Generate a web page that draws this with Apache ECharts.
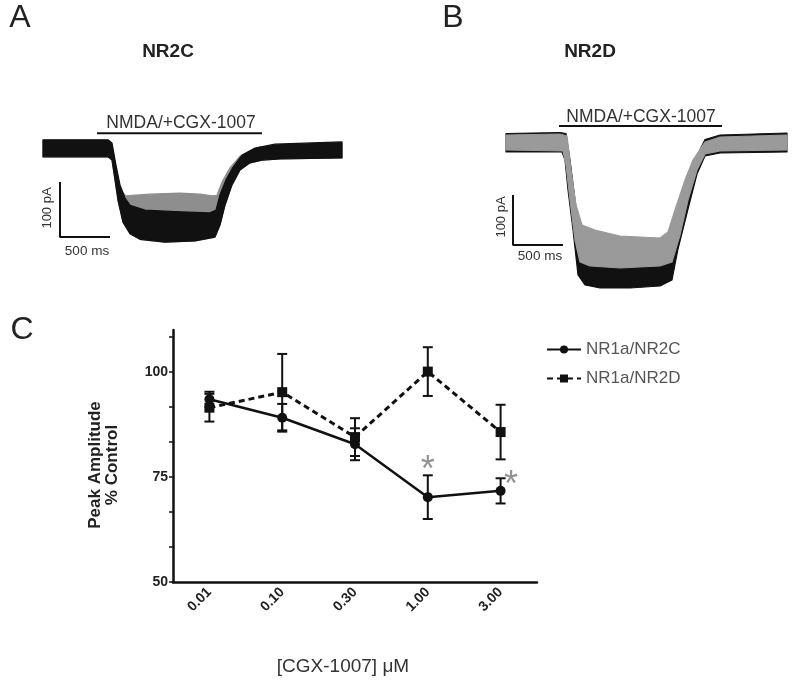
<!DOCTYPE html>
<html>
<head>
<meta charset="utf-8">
<script src="https://cdn.jsdelivr.net/npm/echarts/dist/echarts.min.js"></script>
<style>
html,body{margin:0;padding:0;background:#fff;}
#chart{width:800px;height:686px;}
</style>
</head>
<body>
<div id="chart"></div>
<script>
// ---------- Panel C data ----------
const categories = ['0.01', '0.10', '0.30', '1.00', '3.00'];
const nr2cMean = [93.5, 89.1, 82.8, 70.2, 71.7];
const nr2cSem  = [1.8, 3.3, 3.8, 5.2, 3.0];
const nr2dMean = [91.5, 95.2, 84.5, 100.1, 85.7];
const nr2dSem  = [3.3, 9.1, 4.5, 5.8, 6.5];
const yTickLabels = [50, 75, 100];
const yMinorStep = 25 / 3;
const significantIdx = [3, 4];

// ---------- Panel A traces (time ms, current pA) ----------
const aBlackUpper = [[0,15],[650,15],[690,9],[730,-31],[770,-67],[820,-91],[870,-104],[1020,-113],[1370,-116],[1670,-118],[1730,-113],[1770,-85],[1830,-58],[1900,-35],[1990,-13],[2120,0],[2320,7],[2990,11]];
const aBlackLower = [[2990,-18],[2370,-20],[2190,-22],[2070,-27],[1970,-40],[1890,-67],[1820,-104],[1770,-140],[1720,-162],[1520,-169],[1220,-171],[970,-166],[870,-156],[800,-135],[750,-95],[720,-58],[690,-22],[650,-16],[0,-16]];
const aGrayUpper  = [[0,13],[650,13],[690,5],[730,-40],[770,-76],[830,-87],[1070,-84],[1370,-82],[1570,-84],[1690,-87],[1740,-86],[1790,-62],[1870,-36],[1970,-15],[2170,2],[2990,9]];
const aScaleBar = [[170,-62],[170,-162],[670,-162]];
const aDrugBar = [[540,27],[2190,27]];

// ---------- Panel B traces ----------
const bBlackUpper = [[0,17],[540,19],[600,17],[640,-36],[690,-116],[740,-186],[840,-206],[1140,-216],[1540,-216],[1620,-206],[1690,-166],[1790,-96],[1890,-36],[1990,5],[2140,14],[2810,18]];
const bBlackLower = [[2810,-20],[2140,-22],[1990,-28],[1910,-64],[1820,-134],[1720,-214],[1660,-276],[1540,-288],[1240,-292],[940,-292],[790,-286],[720,-266],[670,-176],[620,-96],[590,-36],[560,-20],[0,-20]];
const bGrayUpper  = [[0,14],[540,16],[610,12],[650,-56],[700,-126],[760,-166],[890,-176],[1140,-188],[1540,-192],[1620,-180],[1690,-136],[1790,-76],[1870,-36],[1990,0],[2140,10],[2810,14]];
const bGrayLower  = [[2810,-16],[2140,-18],[1990,-24],[1910,-56],[1820,-116],[1740,-186],[1660,-240],[1540,-248],[1140,-252],[840,-248],[740,-240],[690,-196],[640,-116],[600,-46],[570,-18],[0,-16]];
const bScaleBar = [[70,-106],[70,-206],[570,-206]];
const bDrugBar = [[530,32],[2160,32]];

// ---------- helpers ----------
const FONT = "'Liberation Sans', Arial, Helvetica, sans-serif";
const INK = '#111';

const yTickValues = [];
for (let v = yTickLabels[0]; v < 110; v += yMinorStep) yTickValues.push(v);

function polygonSeries(axisIdx, pts, color, z) {
  return {
    type: 'custom', xAxisIndex: axisIdx, yAxisIndex: axisIdx, silent: true, z: z,
    data: pts, encode: {x: 0, y: 1}, clip: false,
    renderItem: function (params, api) {
      if (params.dataIndex !== 0) return null;
      const coords = pts.map(p => api.coord(p));
      return {type: 'polygon', shape: {points: coords},
        style: {fill: color, stroke: color, lineWidth: 1.2, lineJoin: 'round'}};
    }
  };
}
function barSeries(axisIdx, pts) {
  return {type: 'line', xAxisIndex: axisIdx, yAxisIndex: axisIdx, data: pts, symbol: 'none',
    silent: true, clip: false, z: 10, lineStyle: {color: INK, width: 2}, animation: false};
}
function errSeries(mean, sem) {
  return {
    type: 'custom', xAxisIndex: 2, yAxisIndex: 2, silent: true, z: 3,
    data: mean.map((m, i) => [i, m - sem[i], m + sem[i]]),
    encode: {x: 0, y: [1, 2]},
    renderItem: function (params, api) {
      const i = api.value(0);
      const lo = api.coord([i, api.value(1)]);
      const hi = api.coord([i, api.value(2)]);
      const hw = 5;
      const st = {stroke: INK, lineWidth: 2};
      return {type: 'group', children: [
        {type: 'line', shape: {x1: lo[0], y1: lo[1], x2: hi[0], y2: hi[1]}, style: st},
        {type: 'line', shape: {x1: lo[0] - hw, y1: lo[1], x2: lo[0] + hw, y2: lo[1]}, style: st},
        {type: 'line', shape: {x1: hi[0] - hw, y1: hi[1], x2: hi[0] + hw, y2: hi[1]}, style: st}
      ]};
    }
  };
}
function txt(text, x, y, size, opts) {
  opts = opts || {};
  return {type: 'text', x: x, y: y, rotation: opts.rot || 0, silent: true,
    style: {text: text, fontSize: size, fontFamily: FONT, fontWeight: opts.bold ? 'bold' : 'normal',
      fill: opts.color || '#222', align: 'center', verticalAlign: 'middle'}};
}

const chart = echarts.init(document.getElementById('chart'), null, {renderer: 'canvas'});

const option = {
  backgroundColor: '#fff',
  animation: false,
  textStyle: {fontFamily: FONT},
  grid: [
    {left: 43, top: 115, width: 300, height: 143, outerBoundsMode: 'none'},
    {left: 506, top: 112, width: 300, height: 180, outerBoundsMode: 'none'},
    {left: 173, top: 330, width: 364, height: 252, outerBoundsMode: 'none'}
  ],
  xAxis: [
    {gridIndex: 0, type: 'value', min: 0, max: 3000, show: false},
    {gridIndex: 1, type: 'value', min: 0, max: 3000, show: false},
    {gridIndex: 2, type: 'category', data: categories, boundaryGap: true,
      axisLine: {lineStyle: {color: INK, width: 2.5}},
      axisTick: {alignWithLabel: true, length: 5, lineStyle: {color: INK, width: 2}},
      axisLabel: {rotate: 45, fontSize: 14, fontWeight: 'bold', color: '#222', margin: 8, fontFamily: FONT},
      name: '[CGX-1007] \u03bcM', nameLocation: 'middle', nameGap: 75, nameMoveOverlap: false,
      nameTextStyle: {fontSize: 19, color: '#333', fontFamily: FONT, padding: [0, 24, 0, 0]}
    }
  ],
  yAxis: [
    {gridIndex: 0, type: 'value', min: -200, max: 60, show: false},
    {gridIndex: 1, type: 'value', min: -300, max: 60, show: false},
    {gridIndex: 2, type: 'value', min: 50, max: 110,
      axisLine: {show: true, lineStyle: {color: INK, width: 2.5}},
      axisTick: {show: true, length: 4, customValues: yTickValues, lineStyle: {color: INK, width: 1.5}},
      splitLine: {show: false},
      axisLabel: {fontSize: 14, fontWeight: 'bold', color: '#222', margin: 5, fontFamily: FONT,
        customValues: yTickLabels,
        formatter: function (v) { return String(Math.round(v)); }},
      name: 'Peak Amplitude\n% Control', nameLocation: 'middle', nameGap: 52, nameMoveOverlap: false,
      nameTextStyle: {fontSize: 17, fontWeight: 'bold', color: '#222', fontFamily: FONT, lineHeight: 17, padding: [0, 18, 0, 0]}
    }
  ],
  legend: {
    orient: 'vertical', left: 541, top: 336, itemWidth: 34, itemHeight: 10, itemGap: 12,
    textStyle: {fontSize: 17, color: '#555', fontFamily: FONT},
    data: ['NR1a/NR2C', 'NR1a/NR2D']
  },
  graphic: [
    txt('A', 20, 18, 32),
    txt('B', 453, 18, 32),
    txt('C', 22, 330, 32),
    txt('NR2C', 168, 52, 19, {bold: true}),
    txt('NR2D', 590, 52, 19, {bold: true}),
    txt('NMDA/+CGX-1007', 181, 123, 17.5, {color: '#333'}),
    txt('NMDA/+CGX-1007', 641, 117, 17.5, {color: '#333'}),
    txt('100 pA', 47, 208, 13, {rot: Math.PI / 2, color: '#333'}),
    txt('500 ms', 87, 251, 13.5, {color: '#333'}),
    txt('100 pA', 501, 217, 13, {rot: Math.PI / 2, color: '#333'}),
    txt('500 ms', 540, 256, 13.5, {color: '#333'})
  ],
  series: [
    polygonSeries(0, aGrayUpper.concat(aBlackLower), '#8e8e8e', 1),
    polygonSeries(0, aBlackUpper.concat(aBlackLower), '#111', 2),
    barSeries(0, aScaleBar),
    barSeries(0, aDrugBar),
    polygonSeries(1, bBlackUpper.concat(bBlackLower), '#111', 1),
    polygonSeries(1, bGrayUpper.concat(bGrayLower), '#9a9a9a', 2),
    barSeries(1, bScaleBar),
    barSeries(1, bDrugBar),
    errSeries(nr2cMean, nr2cSem),
    errSeries(nr2dMean, nr2dSem),
    {name: 'NR1a/NR2C', type: 'line', xAxisIndex: 2, yAxisIndex: 2, data: nr2cMean,
      symbol: 'circle', symbolSize: 10, z: 5,
      lineStyle: {color: INK, width: 2.5}, itemStyle: {color: INK}},
    {name: 'NR1a/NR2D', type: 'line', xAxisIndex: 2, yAxisIndex: 2, data: nr2dMean,
      symbol: 'rect', symbolSize: 10, z: 6,
      lineStyle: {color: INK, width: 3, type: [6, 4]}, itemStyle: {color: INK}},
    {type: 'scatter', xAxisIndex: 2, yAxisIndex: 2, silent: true, symbolSize: 1, z: 7,
      itemStyle: {color: 'rgba(0,0,0,0)'},
      data: significantIdx.map((i, k) => ({
        value: [i, nr2cMean[i] + nr2cSem[i]],
        label: k === 0 ? {position: 'top', distance: 0, offset: [0, 14]} : {position: 'right', distance: 3, offset: [0, 8]}
      })),
      label: {show: true, formatter: '*', fontSize: 36, color: '#777', fontFamily: FONT}
    }
  ]
};
chart.setOption(option);
</script>
</body>
</html>
